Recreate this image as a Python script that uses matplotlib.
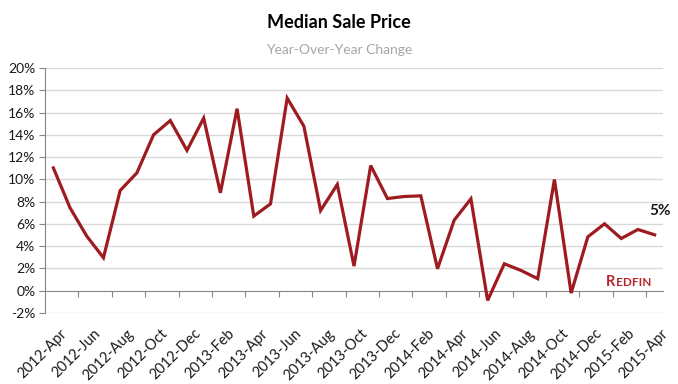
import matplotlib
matplotlib.use("Agg")
import matplotlib.pyplot as plt
import numpy as np

months = ["2012-Apr","2012-May","2012-Jun","2012-Jul","2012-Aug","2012-Sep","2012-Oct","2012-Nov",
          "2012-Dec","2013-Jan","2013-Feb","2013-Mar","2013-Apr","2013-May","2013-Jun","2013-Jul",
          "2013-Aug","2013-Sep","2013-Oct","2013-Nov","2013-Dec","2014-Jan","2014-Feb","2014-Mar",
          "2014-Apr","2014-May","2014-Jun","2014-Jul","2014-Aug","2014-Sep","2014-Oct","2014-Nov",
          "2014-Dec","2015-Jan","2015-Feb","2015-Mar","2015-Apr"]
yoy_change = [11.03, 7.44, 4.9, 2.96, 9.0, 10.58, 14.0, 15.28, 12.6, 15.5, 8.79, 16.35, 6.7, 7.8,
              17.3, 14.77, 7.2, 9.54, 2.21, 11.24, 8.28, 8.46, 8.52, 1.97, 6.34, 8.25, -0.87,
              2.42, 1.82, 1.08, 9.99, -0.21, 4.84, 6.01, 4.69, 5.5, 5.02]
y_ticks = [-2, 0, 2, 4, 6, 8, 10, 12, 14, 16, 18, 20]

plt.rcParams['font.family'] = ['Lato', 'DejaVu Sans']

fig = plt.figure(figsize=(6.78, 3.84), dpi=100)
ax = fig.add_axes([45/678, 1-313/384, (663-45)/678, (313-68)/384])

x = np.arange(len(months))
line_color = "#9e1b20"
ax.plot(x, yoy_change, color=line_color, lw=2.3, solid_joinstyle='miter', zorder=3)

ax.set_xlim(-0.5, len(months) - 0.5)
ax.set_ylim(-2, 20)

# gridlines
for t in y_ticks:
    if t != 0:
        ax.axhline(t, color="#d9d9d9", lw=1, zorder=1)

ax.set_yticks(y_ticks)
ax.set_yticklabels([f"{t}%" for t in y_ticks], fontsize=10, color="#1a1a1a")
ax.tick_params(axis='y', length=4, color="#868686", pad=3)

for s in ['top', 'right']:
    ax.spines[s].set_visible(False)
ax.spines['left'].set_color("#868686")
ax.spines['bottom'].set_color("#868686")
ax.spines['bottom'].set_position(('data', 0))
ax.spines['bottom'].set_zorder(2)

ax.set_xticks(np.arange(1.5, len(months) - 0.5, 2))
ax.set_xticklabels([])
ax.tick_params(axis='x', length=4, color="#868686", direction='out')

# category labels at the bottom
trans = ax.get_xaxis_transform()
for i in range(0, len(months), 2):
    ax.text(i + 0.4, -0.055, months[i], transform=trans, rotation=45, rotation_mode='anchor',
            ha='right', va='top', fontsize=10.5, color="#1a1a1a")

# end label
ax.annotate(f"{round(yoy_change[-1])}%", xy=(x[-1], yoy_change[-1]), xytext=(4, 12),
            textcoords='offset points', ha='center', va='bottom', fontsize=11,
            fontweight='bold', color="#1a1a1a")

# Redfin logo (small caps)
logo_color = "#b5262b"
r = fig.text(606/678, 1-286/384, "R", fontsize=10.5, fontweight='bold', color=logo_color,
             ha='left', va='baseline')
fig.canvas.draw()
bb = r.get_window_extent(renderer=fig.canvas.get_renderer())
fig.text(bb.x1/678 + 0.5/678, 1-286/384, "EDFIN", fontsize=8.5, fontweight='bold',
         color=logo_color, ha='left', va='baseline')

fig.text(0.5, 1-22/384, "Median Sale Price", ha='center', va='center', fontsize=13,
         fontweight='bold', color="#000000")
fig.text(0.5, 1-50/384, "Year-Over-Year Change", ha='center', va='center', fontsize=10,
         color="#a6a6a6")

fig.savefig("out.png", dpi=100)
